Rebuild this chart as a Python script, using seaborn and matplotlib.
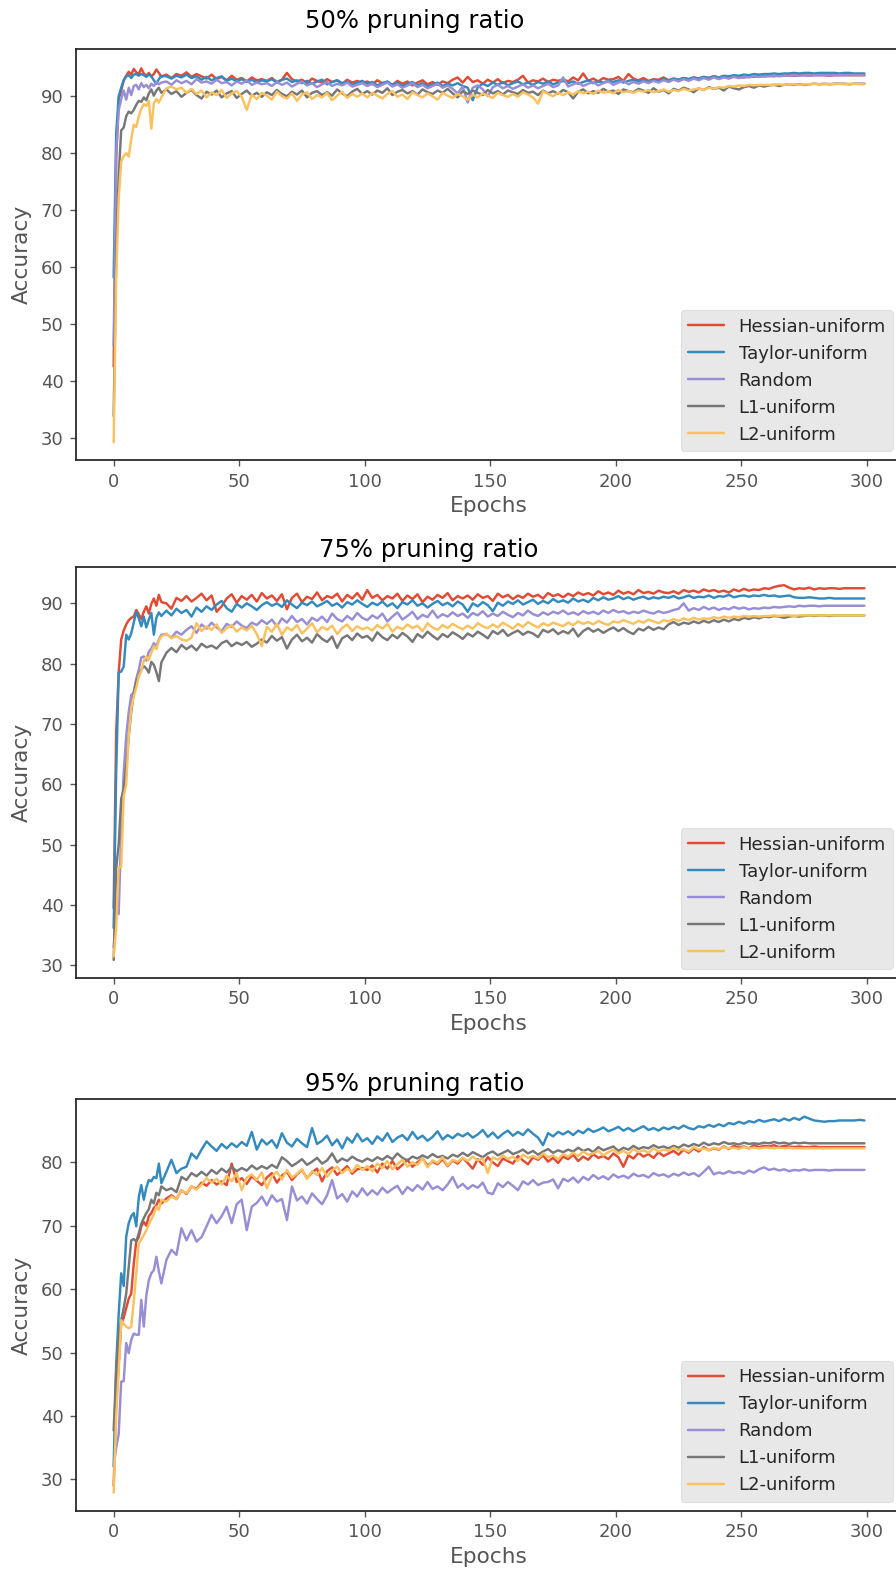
import matplotlib
matplotlib.use("Agg")
import matplotlib.pyplot as plt
import seaborn as sns
import pandas as pd

# ---------------------------------------------------------------- data
# epochs 0..19 every epoch, then every second epoch up to 299
EPOCHS = list(range(0, 20)) + list(range(21, 300, 2))

METHODS = ["Hessian-uniform", "Taylor-uniform", "Random", "L1-uniform", "L2-uniform"]
COLORS = ["#E24A33", "#348ABD", "#988ED5", "#777777", "#FBC15E"]
TITLES = ["50% pruning ratio", "75% pruning ratio", "95% pruning ratio"]
YTICKS = [[30, 40, 50, 60, 70, 80, 90], [30, 40, 50, 60, 70, 80, 90], [30, 40, 50, 60, 70, 80]]
XTICKS = [0, 50, 100, 150, 200, 250, 300]

# ---- 50% pruning ratio
HESSIAN_50 = [
    42.5, 79.0, 89.5, 91.0, 92.8, 93.6, 94.3, 93.8, 94.8, 94.2, 93.9, 94.9, 94.0, 93.6, 94.1, 93.5, 93.9, 94.7, 94.1, 93.4,
    93.8, 93.2, 93.9, 93.6, 94.2, 93.4, 93.9, 93.5, 93.1, 93.8, 93.0, 93.4, 92.8, 93.6, 92.9, 93.2, 92.6, 93.3, 92.8, 93.0,
    92.7, 93.2, 92.5, 92.9, 94.1, 93.0, 92.6, 92.9, 92.3, 93.1, 92.7, 92.4, 93.0, 92.5, 92.8, 92.2, 92.9, 92.4, 92.7, 92.3,
    92.6, 92.1, 92.8, 92.3, 92.5, 92.0, 92.7, 92.2, 92.6, 91.9, 92.4, 92.8, 92.1, 92.5, 92.0, 92.6, 92.3, 92.9, 93.3, 92.4,
    93.4, 92.5, 92.8, 92.2, 92.9, 92.4, 93.0, 92.3, 92.7, 92.5, 92.9, 93.6, 92.4, 92.8, 92.6, 93.1, 92.5, 92.9, 92.7, 93.0,
    92.6, 93.3, 92.8, 94.0, 92.7, 93.1, 92.6, 93.2, 92.9, 93.0, 93.4, 92.7, 93.9, 93.1, 92.8, 93.2, 92.7, 93.0, 92.9, 93.3,
    92.8, 93.1, 92.9, 93.2, 93.0, 93.3, 93.1, 93.4, 93.2, 93.5, 93.3, 93.4, 93.2, 93.5, 93.4, 93.3, 93.5, 93.4, 93.6, 93.5,
    93.6, 93.5, 93.7, 93.6, 93.7, 93.6, 93.7, 93.7, 93.6, 93.7, 93.7, 93.7, 93.6, 93.7, 93.7, 93.7, 93.7, 93.7, 93.7, 93.7,
]
TAYLOR_50 = [
    58.2, 83.5, 90.0, 91.5, 92.8, 93.5, 93.7, 93.2, 93.8, 93.9, 93.6, 93.9, 93.7, 93.4, 93.8, 93.5, 92.8, 92.2, 93.0, 93.6,
    93.5, 93.1, 93.6, 93.3, 93.8, 93.2, 93.5, 92.9, 93.4, 92.8, 93.2, 93.5, 92.7, 93.1, 92.6, 93.0, 92.5, 92.9, 92.4, 92.8,
    92.6, 93.0, 92.4, 92.9, 93.1, 92.5, 92.8, 92.3, 92.7, 92.2, 92.6, 92.9, 92.1, 92.5, 92.8, 92.3, 92.6, 92.0, 92.4, 92.7,
    92.2, 92.5, 91.9, 92.3, 92.6, 92.0, 92.4, 91.8, 92.2, 92.5, 91.9, 92.3, 91.7, 92.1, 92.4, 91.8, 92.2, 91.9, 92.3, 91.8,
    91.5, 89.3, 91.6, 92.2, 91.8, 92.4, 92.0, 92.5, 91.9, 92.3, 92.6, 92.1, 92.4, 92.0, 92.5, 92.2, 92.6, 92.1, 92.4, 92.7,
    92.3, 92.6, 92.2, 92.5, 92.8, 92.3, 92.6, 92.4, 92.7, 92.5, 92.8, 92.4, 92.7, 92.9, 92.6, 92.8, 92.5, 92.9, 92.7, 93.0,
    92.8, 93.1, 92.9, 93.2, 93.0, 93.3, 93.1, 93.4, 93.2, 93.5, 93.3, 93.6, 93.5, 93.7, 93.6, 93.8, 93.7, 93.9, 93.8, 93.9,
    93.9, 94.0, 93.9, 94.0, 94.0, 94.1, 94.0, 94.1, 94.1, 94.0, 94.1, 94.1, 94.1, 94.1, 94.0, 94.1, 94.1, 94.0, 94.0, 94.0,
]
RANDOM_50 = [
    46.2, 80.0, 87.5, 89.5, 91.0, 89.4, 91.5, 90.2, 91.8, 92.0, 91.2, 92.3, 91.6, 92.0, 91.4, 92.2, 91.8, 92.5, 92.1, 92.4,
    92.6, 92.0, 92.8, 92.3, 92.7, 92.1, 93.0, 92.4, 92.6, 92.2, 92.9, 92.3, 92.5, 91.9, 92.6, 92.2, 92.8, 92.0, 92.4, 92.1,
    92.3, 91.8, 92.5, 92.0, 92.4, 91.7, 92.2, 92.6, 91.9, 92.3, 91.6, 92.1, 92.5, 91.8, 92.2, 91.9, 92.4, 91.7, 92.0, 92.3,
    91.8, 92.2, 91.6, 92.0, 92.4, 91.7, 92.1, 91.5, 91.9, 92.3, 91.6, 92.0, 91.4, 91.8, 92.2, 91.5, 91.9, 91.3, 90.5, 91.7,
    88.9, 91.5, 91.9, 91.2, 90.0, 91.6, 92.0, 91.4, 91.8, 91.3, 91.7, 92.1, 91.5, 91.9, 91.4, 91.8, 92.2, 91.6, 91.9, 93.3,
    91.7, 92.1, 92.4, 91.8, 92.2, 92.5, 91.9, 92.3, 92.6, 92.0, 92.4, 92.7, 92.1, 92.5, 92.2, 92.6, 92.3, 92.7, 92.4, 92.8,
    92.5, 92.9, 92.6, 93.0, 92.7, 93.1, 92.8, 93.2, 92.9, 93.3, 93.0, 93.3, 93.1, 93.4, 93.2, 93.4, 93.3, 93.5, 93.4, 93.5,
    93.5, 93.6, 93.5, 93.6, 93.6, 93.7, 93.6, 93.7, 93.6, 93.7, 93.7, 93.7, 93.7, 93.7, 93.7, 93.7, 93.7, 93.7, 93.7, 93.7,
]
L1_50 = [
    33.8, 62.0, 76.0, 84.0, 84.5, 86.5, 87.3, 87.0, 87.6, 88.5, 89.2, 89.0, 89.8, 89.3, 90.5, 91.2, 90.1, 91.0, 91.5, 90.6,
    91.2, 90.4, 90.9, 89.9, 90.6, 91.1, 90.2, 89.6, 90.8, 90.3, 91.0, 89.8, 90.5, 90.9, 89.7, 90.4, 91.0, 90.1, 90.6, 89.9,
    90.7, 90.2, 91.1, 90.4, 90.0, 90.8, 90.3, 91.0, 89.8, 90.6, 90.9, 90.2, 90.7, 90.1, 91.2, 90.5, 90.0, 90.8, 91.3, 90.4,
    90.9, 90.3, 91.0, 90.6, 91.4, 90.2, 90.8, 91.1, 90.5, 90.9, 90.3, 91.2, 90.7, 90.4, 91.0, 90.6, 91.3, 90.5, 89.8, 90.9,
    90.4, 91.0, 90.6, 90.2, 91.1, 90.5, 90.9, 90.3, 91.0, 90.7, 90.4, 91.1, 90.6, 90.8, 90.2, 91.0, 90.5, 90.9, 90.4, 91.1,
    90.7, 89.6, 90.8, 91.2, 90.5, 90.9, 90.6, 91.3, 90.8, 91.0, 90.4, 91.2, 90.9, 90.7, 91.3, 91.0, 90.6, 91.4, 90.8, 91.1,
    90.5, 91.3, 91.0, 91.5, 91.2, 90.7, 91.4, 91.1, 91.6, 91.3, 91.5, 91.0, 91.7, 91.4, 91.2, 91.6, 91.8, 91.5, 91.9, 91.7,
    91.9, 92.0, 91.8, 92.0, 92.1, 92.0, 92.1, 92.0, 92.1, 92.2, 92.1, 92.2, 92.1, 92.2, 92.2, 92.2, 92.1, 92.2, 92.2, 92.2,
]
L2_50 = [
    29.2, 58.0, 72.0, 78.5, 79.5, 80.0, 79.4, 82.5, 85.0, 84.6, 86.5, 87.8, 88.6, 88.3, 89.2, 84.3, 88.8, 89.5, 88.9, 89.8,
    91.4, 91.7, 91.2, 91.5, 90.6, 91.3, 90.4, 91.0, 89.8, 90.7, 90.2, 91.1, 89.7, 90.5, 90.9, 89.9, 87.6, 90.3, 89.5, 90.6,
    90.1, 89.4, 90.8, 90.0, 89.6, 90.5, 89.2, 90.3, 90.7, 89.5, 90.2, 89.8, 90.6, 89.3, 90.1, 90.8, 89.7, 90.4, 89.9, 90.5,
    89.8, 90.6, 90.1, 89.6, 90.4, 90.9, 89.9, 90.3, 89.5, 90.7, 90.2, 89.8, 90.5, 90.0, 89.4, 90.6, 90.1, 89.7, 90.4, 90.0,
    89.4, 90.3, 89.8, 90.5, 90.1, 89.7, 90.6, 90.2, 89.9, 90.4, 89.9, 90.7, 90.3, 89.8, 88.7, 90.9, 90.4, 90.0, 90.6, 90.2,
    90.7, 90.3, 90.9, 90.5, 90.8, 90.4, 91.0, 90.6, 90.9, 90.5, 91.1, 90.7, 90.9, 90.6, 91.0, 90.8, 91.1, 90.7, 90.9, 91.2,
    90.8, 91.1, 90.9, 91.3, 91.0, 91.2, 91.4, 91.1, 91.5, 91.3, 91.6, 91.5, 91.8, 91.7, 91.9, 91.8, 92.0, 91.9, 92.0, 92.0,
    92.0, 92.0, 92.1, 92.0, 92.1, 92.1, 92.0, 92.1, 92.1, 92.2, 92.1, 92.1, 92.2, 92.1, 92.2, 92.1, 92.2, 92.2, 92.1, 92.1,
]

# ---- 75% pruning ratio
HESSIAN_75 = [
    39.5, 68.6, 78.5, 84.0, 85.5, 86.5, 87.2, 87.6, 87.8, 88.9, 88.2, 87.4, 88.6, 89.5, 88.3, 89.9, 90.8, 89.6, 91.4, 90.2,
    90.0, 89.1, 90.9, 90.4, 91.2, 90.3, 90.9, 91.6, 90.5, 91.3, 88.6, 89.5, 90.8, 91.5, 90.1, 91.2, 90.6, 91.4, 90.3, 91.7,
    90.8, 91.3, 90.4, 91.5, 89.0, 90.9, 91.6, 90.2, 91.1, 90.7, 91.8, 90.5, 91.2, 90.9, 91.6, 90.3, 91.4, 90.8, 91.7, 90.6,
    92.2, 90.9, 91.4, 90.5, 91.2, 90.8, 91.6, 90.4, 91.3, 90.7, 91.5, 90.2, 91.1, 90.6, 91.4, 90.9, 91.7, 90.5, 91.2, 90.8,
    91.3, 90.6, 91.5, 90.9, 91.2, 90.4, 91.6, 91.0, 91.4, 90.7, 91.3, 90.9, 91.6, 91.1, 91.4, 90.8, 91.7, 91.2, 91.5, 91.0,
    91.6, 91.2, 91.8, 91.4, 91.7, 91.3, 92.0, 91.5, 91.8, 91.4, 92.1, 91.6, 91.9, 91.5, 92.2, 91.7, 91.9, 91.6, 92.1, 91.8,
    91.7, 92.0, 91.6, 92.2, 91.9, 92.1, 91.8, 92.3, 92.0, 92.2, 91.9, 92.1, 91.8, 92.3, 92.0, 92.4, 92.1, 92.3, 92.2, 92.5,
    92.4, 92.7, 92.9, 93.0, 92.6, 92.3, 92.5, 92.4, 92.6, 92.3, 92.5, 92.4, 92.5, 92.5, 92.4, 92.5, 92.5, 92.5, 92.5, 92.5,
]
TAYLOR_75 = [
    36.2, 62.0, 78.5, 78.7, 79.5, 84.8, 84.0, 85.0, 86.8, 88.6, 87.5, 86.2, 87.8, 86.0, 87.3, 88.4, 84.8, 87.6, 88.5, 87.9,
    88.8, 88.0, 89.1, 88.4, 88.9, 87.8, 89.3, 88.6, 89.5, 88.9, 89.8, 90.4, 89.2, 88.6, 89.9, 89.3, 90.0, 89.5, 88.9, 89.7,
    90.2, 89.6, 90.0, 89.4, 90.5, 89.8, 89.2, 90.1, 89.7, 90.3, 89.5, 89.9, 90.4, 89.6, 90.0, 89.3, 90.2, 89.8, 90.5, 89.9,
    89.4, 90.1, 89.7, 90.3, 89.5, 90.0, 89.2, 90.2, 89.8, 90.5, 89.6, 90.0, 89.3, 89.9, 90.4, 89.7, 90.1, 89.5, 90.3, 89.8,
    88.6, 90.0, 89.5, 90.2, 89.7, 88.7, 90.1, 89.6, 90.3, 89.9, 90.5, 89.8, 90.2, 90.6, 89.9, 90.4, 90.0, 90.7, 90.2, 90.5,
    90.1, 90.8, 90.3, 90.6, 90.2, 90.9, 90.5, 91.0, 90.6, 90.8, 91.2, 90.7, 91.0, 90.6, 90.9, 91.1, 90.7, 91.0, 90.8, 91.1,
    90.9, 91.2, 90.8, 91.0, 91.3, 90.9, 91.1, 91.0, 91.3, 90.9, 91.2, 91.1, 91.4, 91.0, 91.2, 91.3, 91.1, 91.3, 91.2, 91.4,
    91.2, 91.3, 91.1, 91.2, 91.3, 91.0, 90.9, 90.9, 91.0, 90.9, 90.8, 90.8, 90.9, 90.8, 90.8, 90.8, 90.8, 90.8, 90.8, 90.8,
]
RANDOM_75 = [
    33.0, 38.5, 38.5, 52.0, 62.0, 68.0, 72.0, 74.8, 75.2, 77.5, 79.0, 81.0, 81.2, 80.5, 82.0, 82.5, 83.4, 82.9, 84.0, 84.8,
    84.9, 84.3, 85.3, 84.8, 85.6, 86.2, 85.1, 86.5, 85.8, 86.8, 86.0, 85.4, 86.6, 86.1, 87.0, 86.3, 85.9, 86.8, 86.4, 87.2,
    86.6, 87.3, 86.2, 87.5, 86.8, 87.9, 86.9, 87.4, 86.5, 87.6, 87.1, 87.8, 86.9, 88.3, 87.4, 87.0, 87.9, 87.3, 88.4, 87.6,
    87.2, 88.0, 87.5, 88.3, 87.0, 87.8, 88.5, 87.3, 87.9, 88.6, 87.4, 88.1, 87.7, 88.8, 87.6, 88.2, 87.8, 88.5, 87.9, 88.3,
    87.6, 88.4, 88.0, 88.7, 87.8, 88.3, 87.9, 88.6, 88.1, 87.7, 88.4, 88.0, 88.8, 88.2, 87.9, 88.5, 88.1, 88.6, 88.3, 88.8,
    88.2, 88.5, 88.1, 88.7, 88.3, 88.6, 88.2, 88.8, 88.4, 88.9, 88.5, 88.7, 88.3, 88.6, 88.4, 88.8, 88.5, 88.3, 88.7, 88.4,
    88.6, 88.9, 89.1, 90.0, 88.8, 89.2, 88.9, 89.4, 89.0, 89.3, 88.9, 89.2, 89.0, 89.4, 89.1, 89.3, 89.0, 89.2, 89.1, 89.3,
    89.2, 89.4, 89.3, 89.4, 89.5, 89.4, 89.6, 89.5, 89.6, 89.6, 89.5, 89.6, 89.6, 89.6, 89.6, 89.6, 89.6, 89.6, 89.6, 89.6,
]
L1_75 = [
    30.9, 46.0, 50.0, 57.6, 59.2, 63.0, 68.0, 72.0, 75.2, 77.0, 78.0, 79.0, 79.6, 79.2, 78.5, 80.3, 79.8, 78.6, 77.1, 80.2,
    81.8, 82.6, 81.9, 83.1, 82.4, 83.0, 82.2, 83.3, 82.7, 83.0, 82.5, 83.4, 83.8, 82.9, 83.5, 83.1, 83.6, 82.8, 83.3, 84.0,
    83.5, 84.6, 83.8, 84.4, 82.5, 84.0, 84.8, 83.7, 84.3, 83.5, 84.9, 84.1, 83.6, 84.5, 82.6, 84.2, 84.7, 83.9, 85.0, 84.3,
    84.6, 83.8, 85.2, 84.4, 83.9, 84.8, 84.2, 85.1, 84.5, 83.6, 84.9, 84.3, 85.3, 84.6, 84.0, 84.9, 84.4, 85.2, 84.7, 84.1,
    85.0, 84.5, 85.3, 84.8, 84.2, 85.4, 84.9, 85.6, 84.6, 85.1, 85.5, 84.8, 85.3, 85.0, 84.4, 85.6, 85.2, 85.7, 84.9, 85.4,
    85.0, 85.8, 84.5, 85.4, 85.9, 85.3, 85.7, 85.1, 85.6, 86.0, 85.4, 85.9, 85.3, 84.9, 85.8, 85.5, 86.1, 85.6, 86.0, 85.7,
    86.5, 86.9, 86.4, 86.8, 86.6, 87.0, 86.7, 87.1, 86.8, 87.2, 86.9, 87.3, 87.0, 87.4, 87.2, 87.6, 87.4, 87.7, 87.5, 87.8,
    87.7, 87.9, 87.8, 87.6, 87.8, 87.9, 87.8, 87.9, 88.0, 87.9, 88.0, 88.0, 87.9, 88.0, 88.0, 88.0, 88.0, 88.0, 88.0, 88.0,
]
L2_75 = [
    31.5, 36.0, 46.3, 46.3, 58.0, 60.0, 68.0, 72.5, 74.6, 76.0, 77.9, 78.8, 80.5, 81.2, 80.6, 81.8, 82.9, 82.4, 83.8, 84.5,
    85.0, 84.2, 84.6, 84.0, 83.8, 84.3, 86.7, 85.4, 86.2, 85.6, 86.5, 85.1, 85.9, 86.4, 85.3, 86.0, 85.5, 86.3, 84.9, 82.9,
    86.1, 85.3, 86.6, 84.8, 86.0, 85.5, 86.4, 85.0, 85.8, 86.7, 85.2, 86.1, 85.6, 86.3, 84.9, 85.9, 86.5, 85.4, 86.2, 85.7,
    86.0, 85.5, 86.4, 85.8, 86.6, 85.3, 86.1, 85.7, 86.5, 85.9, 86.3, 85.4, 86.7, 86.0, 85.6, 86.4, 85.9, 86.6, 86.1, 85.7,
    86.3, 85.8, 86.7, 86.2, 85.9, 86.5, 86.0, 86.8, 86.3, 85.8, 86.6, 86.1, 86.9, 86.4, 86.0, 86.7, 86.3, 86.8, 86.5, 86.2,
    86.8, 86.4, 87.0, 86.6, 86.9, 86.5, 87.1, 86.7, 86.4, 87.0, 86.8, 87.2, 86.9, 86.6, 87.1, 86.8, 87.3, 87.0, 86.7, 87.2,
    87.0, 87.4, 87.1, 87.5, 87.2, 87.6, 87.3, 87.5, 87.4, 87.7, 87.5, 87.8, 87.6, 87.8, 87.7, 87.9, 87.8, 87.9, 87.8, 87.9,
    87.9, 88.0, 87.9, 88.0, 88.0, 87.9, 88.0, 88.0, 88.0, 88.0, 88.0, 88.0, 88.0, 88.0, 88.0, 88.0, 88.0, 88.0, 88.0, 88.0,
]

# ---- 95% pruning ratio
HESSIAN_95 = [
    29.0, 42.0, 48.0, 54.5, 55.5, 57.0, 58.5, 59.3, 64.0, 67.5, 68.2, 69.9, 70.6, 70.0, 71.5, 72.0, 72.8, 73.2, 74.1, 73.5,
    74.3, 74.8, 74.2, 75.6, 75.0, 76.2, 75.8, 76.8, 76.3, 77.2, 76.5, 77.0, 76.4, 79.8, 76.9, 77.5, 76.6, 77.8, 77.1, 76.4,
    77.6, 78.3, 76.8, 77.9, 78.5, 77.2, 78.1, 78.8, 77.5, 78.4, 79.0, 77.0, 78.6, 79.2, 78.0, 78.7, 79.4, 78.2, 78.9, 79.1,
    78.8, 79.5, 78.4, 79.8, 79.0, 80.2, 78.9, 79.6, 80.4, 79.3, 80.0, 80.6, 79.5, 80.1, 79.7, 80.5, 79.4, 80.3, 79.8, 80.7,
    79.9, 79.0, 80.5, 79.6, 80.8, 80.0, 79.4, 80.6, 80.2, 79.8, 81.0, 80.3, 79.7, 80.8, 80.4, 81.1, 80.1, 80.7, 79.9, 80.9,
    80.5, 81.2, 80.2, 80.9, 80.4, 81.3, 80.7, 81.0, 80.5, 81.4, 80.8, 79.3, 81.1, 80.6, 81.5, 80.9, 81.3, 80.7, 81.6, 81.0,
    81.4, 81.8, 81.2, 82.0, 81.5, 82.2, 81.7, 82.4, 81.9, 82.2, 82.0, 82.5, 82.1, 82.6, 82.3, 82.5, 82.2, 82.7, 82.4, 82.6,
    82.5, 82.7, 82.4, 82.6, 82.5, 82.4, 82.5, 82.4, 82.4, 82.5, 82.4, 82.4, 82.4, 82.4, 82.4, 82.4, 82.4, 82.4, 82.4, 82.4,
]
TAYLOR_95 = [
    32.1, 48.0, 56.0, 62.5, 60.5, 68.3, 70.4, 71.5, 72.0, 69.9, 74.5, 76.4, 74.1, 76.0, 77.2, 77.0, 77.7, 77.5, 79.8, 76.7,
    78.5, 80.4, 78.3, 79.0, 79.3, 81.4, 80.6, 82.0, 83.3, 82.5, 81.8, 82.9, 82.2, 83.0, 82.4, 83.2, 82.6, 84.8, 82.0, 83.6,
    82.8, 83.5, 82.3, 84.6, 83.1, 82.5, 83.7, 83.0, 82.4, 85.4, 82.9, 83.4, 84.2, 82.7, 83.6, 82.2, 83.9, 83.1, 84.5, 83.3,
    83.8, 82.9, 84.1, 83.4, 84.6, 83.2, 83.9, 84.3, 83.5, 84.8, 83.7, 84.2, 83.4, 84.0, 84.9, 83.6, 84.3, 83.8, 84.5, 84.1,
    84.6, 83.9, 84.4, 85.1, 84.0, 84.7, 83.8, 84.5, 85.0, 84.2, 84.8, 84.3, 85.2, 84.5, 83.9, 82.7, 84.6, 84.1, 84.8, 84.4,
    84.9, 84.3, 85.0, 84.6, 85.3, 84.8, 85.1, 85.5, 84.9, 85.2, 85.6, 85.0, 85.4, 84.9, 85.3, 85.7, 85.1, 85.4, 85.0, 85.5,
    85.2, 85.6, 85.3, 85.8, 85.4, 85.2, 85.7, 85.5, 85.9, 85.6, 86.0, 85.7, 86.2, 86.0, 86.4, 86.1, 86.5, 86.3, 86.7, 86.4,
    86.6, 86.8, 86.5, 86.9, 86.6, 87.0, 86.7, 87.2, 86.9, 86.6, 86.5, 86.4, 86.5, 86.5, 86.6, 86.6, 86.6, 86.6, 86.7, 86.6,
]
RANDOM_95 = [
    32.0, 35.0, 37.1, 45.4, 45.5, 51.5, 49.9, 52.0, 53.0, 52.8, 52.8, 58.3, 54.1, 59.0, 61.4, 62.5, 63.0, 65.1, 62.8, 60.9,
    64.6, 66.2, 65.4, 69.6, 67.7, 69.3, 67.5, 68.2, 69.9, 71.7, 70.4, 71.5, 73.0, 70.4, 73.4, 74.1, 69.3, 73.0, 73.6, 74.6,
    73.2, 74.8, 73.8, 74.2, 70.9, 76.2, 74.0, 74.6, 73.5, 75.1, 74.2, 73.4, 74.8, 77.2, 74.3, 75.0, 73.8, 75.4, 74.6, 75.9,
    74.8, 75.6, 74.9, 76.0, 75.2, 75.8, 76.3, 75.0, 76.1, 75.5, 76.4, 75.7, 76.9, 75.8, 76.2, 75.6, 76.5, 77.7, 76.0, 76.6,
    75.8, 76.4, 76.0, 76.8, 75.2, 75.0, 76.7, 76.1, 76.9, 76.3, 75.6, 77.0, 76.5, 77.2, 76.4, 76.8, 76.9, 77.3, 75.9, 77.4,
    77.0, 77.6, 76.8, 77.7, 77.2, 78.0, 77.4, 77.8, 77.3, 78.1, 77.6, 77.9, 77.5, 78.2, 77.8, 78.0, 77.6, 78.3, 77.9, 78.1,
    77.7, 78.2, 77.9, 78.4, 78.0, 78.3, 77.8, 78.5, 79.3, 78.1, 78.4, 78.2, 78.6, 78.3, 78.5, 78.2, 78.7, 78.4, 78.9, 79.2,
    78.8, 79.0, 78.7, 78.9, 78.6, 78.8, 78.7, 78.9, 78.7, 78.8, 78.8, 78.8, 78.7, 78.8, 78.8, 78.8, 78.8, 78.8, 78.8, 78.8,
]
L1_95 = [
    37.7, 47.0, 52.5, 55.1, 57.0, 59.3, 63.5, 67.7, 67.9, 67.5, 68.8, 70.3, 71.2, 72.0, 72.6, 74.1, 73.5, 75.2, 74.8, 76.2,
    75.6, 75.9, 75.3, 77.7, 77.2, 78.3, 77.8, 78.5, 77.9, 78.8, 78.2, 79.0, 78.4, 79.3, 78.6, 79.1, 78.7, 79.5, 78.9, 79.4,
    79.0, 79.6, 79.1, 80.8, 80.2, 79.4, 79.9, 80.5, 79.6, 80.1, 80.7, 79.8, 80.3, 81.4, 80.0, 80.6, 80.2, 80.9, 80.4, 80.1,
    80.6, 80.2, 80.8, 80.4, 81.0, 80.5, 81.4, 80.7, 80.3, 80.9, 80.6, 81.1, 80.7, 81.3, 80.8, 81.0, 80.6, 81.2, 80.9, 81.5,
    81.0, 81.6, 81.2, 80.8, 81.4, 81.7, 81.1, 81.5, 81.9, 81.3, 81.6, 82.0, 81.4, 81.8, 81.2, 81.7, 82.1, 81.5, 81.9, 81.6,
    82.0, 81.7, 82.3, 81.8, 82.1, 81.6, 82.4, 81.9, 82.2, 82.5, 81.8, 82.3, 82.0, 82.6, 82.1, 82.4, 82.2, 82.7, 82.3, 82.5,
    82.2, 82.6, 82.3, 82.8, 82.5, 82.9, 82.6, 83.1, 82.7, 83.0, 82.8, 83.2, 82.9, 83.0, 82.8, 83.1, 82.9, 83.0, 82.9, 83.1,
    83.0, 83.2, 83.0, 83.1, 82.9, 83.1, 83.0, 83.1, 83.0, 83.0, 83.0, 83.0, 83.0, 83.0, 83.0, 83.0, 83.0, 83.0, 83.0, 83.0,
]
L2_95 = [
    27.9, 40.0, 47.0, 55.1, 54.5, 54.1, 53.8, 54.1, 58.0, 62.5, 67.2, 67.8, 68.5, 69.3, 70.2, 71.0, 71.8, 73.0, 72.5, 74.1,
    73.8, 74.6, 74.2, 75.6, 75.1, 76.2, 75.7, 76.5, 77.5, 76.8, 77.4, 76.5, 77.9, 77.0, 78.3, 75.6, 77.6, 78.1, 77.2, 78.4,
    75.9, 77.8, 78.5, 77.3, 78.8, 77.6, 78.2, 78.9, 77.4, 78.6, 78.0, 79.1, 77.7, 78.7, 79.3, 78.3, 79.0, 78.5, 79.6, 78.8,
    79.4, 78.6, 79.8, 79.1, 80.2, 78.9, 79.7, 80.4, 79.3, 80.0, 79.6, 80.6, 79.2, 80.3, 79.9, 80.8, 79.5, 80.4, 80.1, 80.7,
    80.2, 80.9, 80.3, 80.6, 78.3, 80.8, 80.4, 81.1, 80.5, 80.9, 80.2, 81.2, 80.7, 81.0, 80.6, 81.4, 80.8, 81.1, 80.5, 81.3,
    80.9, 81.5, 81.0, 81.7, 81.2, 81.4, 81.8, 81.1, 81.6, 82.0, 81.4, 81.8, 81.3, 82.1, 81.6, 81.9, 81.5, 82.2, 81.7, 82.0,
    81.8, 82.3, 81.9, 82.1, 81.7, 82.4, 82.0, 82.2, 81.9, 82.3, 82.1, 82.4, 82.2, 82.3, 82.1, 82.4, 82.2, 82.3, 82.2, 82.3,
    82.3, 82.2, 82.3, 82.2, 82.3, 82.2, 82.2, 82.2, 82.2, 82.2, 82.2, 82.2, 82.2, 82.2, 82.2, 82.2, 82.2, 82.2, 82.2, 82.2,
]

PANELS = [
    [HESSIAN_50, TAYLOR_50, RANDOM_50, L1_50, L2_50],
    [HESSIAN_75, TAYLOR_75, RANDOM_75, L1_75, L2_75],
    [HESSIAN_95, TAYLOR_95, RANDOM_95, L1_95, L2_95],
]

# ---------------------------------------------------------------- style
sns.set_theme(style="ticks")
plt.rcParams["font.family"] = ["DejaVu Sans"]
plt.rcParams["font.size"] = 13

W, H = 896, 1575
fig = plt.figure(figsize=(W / 100, H / 100), dpi=100)

# axes boxes in pixels: (left, top, right, bottom)
BOXES = [(76, 49, 902.1, 460), (76, 566.7, 902.1, 978), (76, 1099.3, 902.1, 1510.7)]
YLIMS = [(26.1, 98.3), (27.9, 96.07), (25.05, 89.94)]
TITLE_POS = [(414.5, 28.3), (429, 557.3), (414.5, 1091)]

for p, (series, box, ylim, yt, title, tpos) in enumerate(
        zip(PANELS, BOXES, YLIMS, YTICKS, TITLES, TITLE_POS)):
    l, t, r, b = box
    ax = fig.add_axes([l / W, 1 - b / H, (r - l) / W, (b - t) / H])

    frames = []
    for name, vals in zip(METHODS, series):
        if len(vals) != len(EPOCHS):
            raise ValueError(f"{name}: {len(vals)} values")
        frames.append(pd.DataFrame({"Epochs": EPOCHS, "Accuracy": vals, "Method": name}))
    df = pd.concat(frames, ignore_index=True)

    sns.lineplot(data=df, x="Epochs", y="Accuracy", hue="Method", hue_order=METHODS,
                 palette=COLORS, linewidth=1.75, errorbar=None, legend=False, ax=ax)

    ax.set_xlim(-15, 314)
    ax.set_ylim(*ylim)
    ax.set_xticks(XTICKS)
    ax.set_yticks(yt)
    ax.set_facecolor("white")
    for s in ax.spines.values():
        s.set_visible(True)
        s.set_color("#222222")
        s.set_linewidth(1.25)
    ax.tick_params(axis="both", direction="out", length=4.5, width=1.0,
                   color="#555555", labelcolor="#555555", labelsize=13, pad=4.5)

    ax.set_xlabel("Epochs", fontsize=15.6, color="#555555")
    ax.set_ylabel("Accuracy", fontsize=15.6, color="#555555")
    ax.xaxis.set_label_coords(0.5, -0.088)
    ax.yaxis.set_label_coords(-0.054, 0.5)

    leg = ax.legend(ax.lines[:5], METHODS, loc="lower right", fontsize=13,
                    frameon=True, fancybox=True, facecolor="#E5E5E5",
                    edgecolor="#DDDDDD", framealpha=0.85)
    for h in leg.legend_handles:
        h.set_linewidth(1.75)
    leg.get_frame().set_linewidth(0.8)

    fig.text(tpos[0] / W, 1 - tpos[1] / H, title, ha="center", va="baseline",
             fontsize=17.5, color="black")

fig.savefig("out.png", dpi=100)
